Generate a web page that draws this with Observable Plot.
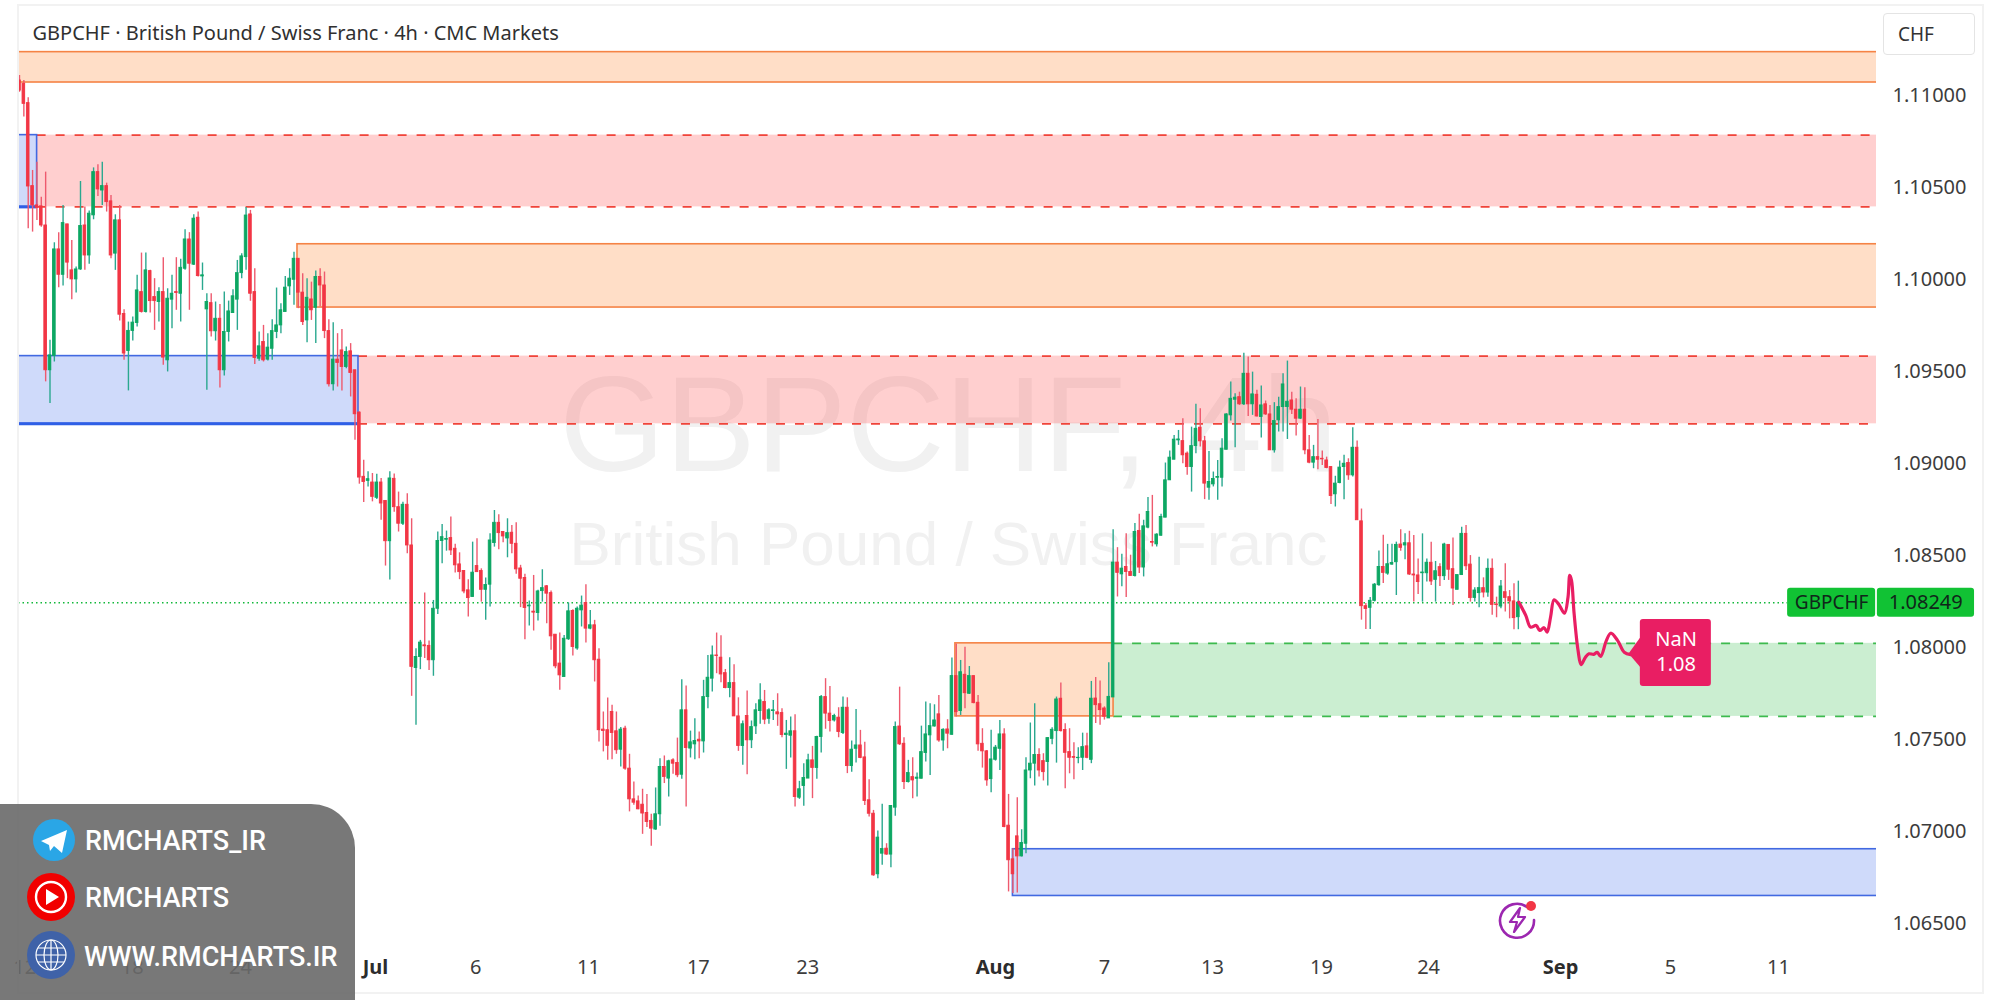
<!DOCTYPE html>
<html><head><meta charset="utf-8">
<script src="https://cdn.jsdelivr.net/npm/d3@7"></script>
<script src="https://cdn.jsdelivr.net/npm/@observablehq/plot@0.6"></script>
<style>
html,body{margin:0;background:#fff;width:2000px;height:1000px;overflow:hidden}
#wrap{position:relative;width:2000px;height:1000px}
#border{position:absolute;left:17px;top:4px;width:1963px;height:986px;border:2px solid #f2f2f2;pointer-events:none}
#chf{position:absolute;left:1883px;top:13px;width:90px;height:40px;border:1px solid #e4e4e4;border-radius:4px;background:#fff;font:19px "Noto Sans";color:#333;line-height:40px;text-indent:14px}
#panel{position:absolute;left:0;top:804px;width:355px;height:196px;background:rgba(105,105,105,.9);border-top-right-radius:44px;color:#fff;font:500 27px Roboto}
#panel div{position:absolute;left:85px;white-space:nowrap}
#panel svg{position:absolute;left:0;top:0}
#bolt{position:absolute;left:1492px;top:895px}
</style></head><body><div id="wrap"><div id="chart"></div><div id="border"></div><div id="chf">CHF</div>
<svg id="bolt" width="50" height="46" viewBox="0 0 50 46"><path d="M35 12A17 17 0 1 0 42 25" fill="none" stroke="#9c27b0" stroke-width="2.6" stroke-linecap="round"/><path d="M28 13L18 27H25L22 37L33 22H26Z" fill="none" stroke="#9c27b0" stroke-width="2.2" stroke-linejoin="round"/><circle cx="39" cy="11" r="5" fill="#f23645"/></svg>
<div id="panel">
<svg width="110" height="196"><circle cx="54" cy="36" r="21" fill="#2aa6e6"/><path d="M41 37L67 26L62 49L54 42L50 47L49 41Z" fill="#fff"/>
<circle cx="51" cy="93" r="24" fill="#f10000"/><circle cx="51" cy="93" r="15" fill="none" stroke="#fff" stroke-width="2.4"/><path d="M46 85L59 93L46 101Z" fill="#fff"/>
<circle cx="51" cy="151" r="24" fill="#3f62a8"/><g fill="none" stroke="#fff" stroke-width="1.2"><circle cx="51" cy="151" r="15"/><ellipse cx="51" cy="151" rx="7" ry="15"/><path d="M36 151H66M38 144H64M38 158H64M51 136V166"/></g></svg>
<div style="top:21px">RMCHARTS_IR</div><div style="top:78px">RMCHARTS</div><div style="top:137px;left:84px">WWW.RMCHARTS.IR</div></div></div>
<script>
// Prices in 1/100000 CHF. Each row: open, close, high, low
const juneBars=[[111087,111032,111114,111023],[111069,110960,111087,110888],[110964,110511,110993,110281],[110513,110408,110598,110263],[110408,110395,110643,110326],[110403,110299,110453,110290],[110299,109512,110589,109449],[109512,109593,109675,109331],[109590,110169,110205,109557],[110169,110031,110260,109961],[110031,110312,110408,109970],[110305,110097,110305,110010],[110055,110006,110218,109896],[110006,110060,110073,109932],[110060,110296,110538,110055],[110299,110136,110399,110055],[110136,110363,110377,110088],[110354,110589,110612,110330],[110589,110495,110629,110457],[110489,110513,110643,110408],[110513,110426,110529,110372],[110430,110136,110462,110118],[110146,110327,110357,110055],[110327,109814,110408,109780],[109818,109603,109841,109566],[109617,109726,109774,109400],[109726,109771,109802,109671],[109769,109946,110028,109747],[109937,109829,110149,109823],[109829,110055,110149,109823],[110051,109888,110055,109823],[109910,109888,110010,109729],[109883,109937,109961,109774],[109937,109581,110124,109539],[109566,109901,109955,109503],[109896,109928,110028,109738],[109937,109932,110124,109838],[109928,110069,110115,109774],[110064,110223,110276,110055],[110223,110091,110260,109838],[110086,110336,110357,110082],[110341,110024,110372,110019],[110022,110028,110095,109946],[109843,109883,109928,109403],[109877,109724,109928,109693],[109724,109792,109883,109671],[109792,109512,109870,109416],[109512,109720,109937,109481],[109720,109832,109888,109666],[109823,109914,109950,109820],[109896,110040,110109,109729],[110040,110131,110145,110010],[110127,110353,110397,110055],[110359,109928,110381,109887],[109937,109579,110064,109544],[109575,109642,109720,109561],[109666,109566,109756,109557],[109570,109635,109711,109562],[109629,109725,109787,109566],[109720,109756,109959,109684],[109756,109838,109874,109711],[109829,109961,110022,109829],[109968,110010,110064,109919],[110004,110118,110154,109865],[110118,109934,110118,109847],[109934,109774,110037,109756],[109783,109906,110010,109662],[109897,109838,109991,109783],[109852,110019,110051,109657],[110019,109973,110064,109856],[109973,109725,110046,109684],[109725,109436,109787,109421],[109436,109570,109771,109400],[109570,109552,109711,109421],[109620,109530,109734,109400],[109530,109611,109639,109521],[109615,109497,109657,109367],[109512,109273,109512,109132],[109282,108929,109286,108893],[108933,108905,109023,108793],[108911,108920,108960,108878]];
const julyBars=[[108902,108824,108951,108797],[108819,108902,108947,108810],[108902,108788,108924,108697],[108802,108583,108802,108448],[108583,108924,108960,108372],[108922,108768,108949,108741],[108768,108678,108850,108633],[108678,108781,108795,108669],[108781,108560,108841,108515],[108560,107900,108705,107740],[107894,107954,107999,107583],[107954,108032,108044,107885],[108017,108012,108301,107945],[108014,107936,108041,107881],[107936,108216,108261,107849],[108216,108584,108633,108185],[108584,108605,108674,108461],[108591,108595,108638,108529],[108600,108533,108714,108506],[108542,108452,108566,108410],[108457,108415,108520,108374],[108421,108310,108421,108298],[108316,108274,108374,108171],[108280,108412,108578,108280],[108448,108415,108596,108415],[108421,108319,108433,108252],[108319,108345,108383,108153],[108347,108587,108624,108225],[108573,108683,108750,108551],[108683,108627,108727,108537],[108633,108609,108636,108575],[108598,108627,108705,108493],[108629,108569,108669,108515],[108569,108430,108683,108403],[108435,108379,108452,108222],[108383,108220,108403,108048],[108229,108233,108258,108122],[108200,108195,108397,108095],[108193,108310,108316,108149],[108312,108328,108428,108252],[108338,108298,108343,108135],[108301,108066,108312,107990],[108075,107903,108075,107890],[107918,107854,108084,107773],[107845,108053,108071,107845],[108050,108202,108247,108044],[108204,108008,108211,107959],[108000,108216,108225,107990],[108207,108233,108285,108117],[108247,108108,108347,108030],[108108,108126,108207,108102],[108126,107936,108153,107818],[107939,107556,107999,107492],[107559,107552,107655,107438],[107556,107471,107731,107393],[107655,107541,107691,107396],[107550,107447,107655,107425],[107450,107559,107570,107356],[107564,107347,107577,107338],[107347,107180,107425,107112],[107180,107162,107275,107148],[107169,107126,107199,107124],[107151,107103,107235,106990],[107106,107057,107206,107027],[107063,107021,107099,106925],[107016,107099,107242,107012],[107099,107356,107401,107034],[107356,107302,107416,107266],[107293,107387,107392,107193],[107392,107374,107401,107316],[107378,107311,107513,107298],[107314,107664,107830,107289],[107664,107459,107796,107139],[107456,107490,107551,107405],[107479,107497,107618,107396],[107504,107495,107546,107401],[107495,107736,107827,107432],[107736,107841,107962,107673],[107836,107962,108013,107763],[107962,107959,108084,107863],[107950,107859,108069,107814],[107866,107785,107886,107781],[107785,107812,107950,107732],[107812,107631,107912,107631],[107631,107470,107732,107441],[107470,107588,107606,107365],[107633,107501,107769,107314],[107501,107573,107606,107456],[107577,107664,107700,107532],[107660,107718,107809,107588],[107709,107613,107772,107586],[107618,107664,107673,107588],[107660,107664,107718,107609],[107653,107642,107754,107577],[107649,107530,107673,107515],[107530,107537,107609,107343],[107526,107550,107628,107405],[107550,107193,107640,107139],[107189,107235,107278,107180],[107253,107296,107374,107142],[107293,107392,107425,107293],[107392,107351,107468,107184],[107351,107519,107523,107289],[107519,107736,107745,107432],[107736,107646,107836,107561],[107646,107606,107794,107546],[107609,107633,107642,107600],[107624,107546,107678,107515],[107541,107678,107736,107532],[107678,107361,107732,107320],[107361,107450,107497,107328],[107455,107473,107669,107377],[107473,107405,107555,107401],[107408,107171,107490,107147],[107175,107102,107287,107084],[107102,106767,107120,106762],[106773,106972,107008,106749],[106885,106910,107153,106822],[106912,106880,106939,106876],[106880,107144,107147,106809],[107135,107573,107600,107088],[107576,107479,107790,107473],[107482,107274,107515,107233],[107274,107323,107392,107269],[107301,107283,107406,107184],[107292,107298,107323,107193],[107292,107437,107578,107292],[107432,107533,107709,107383],[107528,107578,107700,107310],[107576,107609,107694,107573],[107642,107500,107745,107491],[107500,107558,107564,107441],[107560,107537,107613,107455],[107531,107850,107949,107528],[107850,107654,108025,107627],[107660,107871,107935,107636],[107857,107757,108007,107672],[107754,107850,107902,107750],[107850,107703,107850,107700],[107705,107479,107745,107442],[107482,107441,107564,107350],[107441,107283,107446,107251],[107290,107397,107555,107216]];
const augustBars=[[107395,107461,107473,107388],[107455,107533,107609,107337],[107533,107030,107564,107026],[107037,106849,107207,106677],[106854,106773,106912,106668],[106979,106870,107189,106671],[106870,106943,107015,106867],[106939,107337,107406,106885],[107337,107374,107595,107292],[107374,107421,107700,107252],[107421,107337,107455,107301],[107388,107328,107428,107280],[107383,107513,107515,107252],[107509,107558,107569,107477],[107551,107723,107736,107377],[107727,107551,107812,107546],[107557,107433,107591,107238],[107437,107406,107564,107319],[107410,107406,107488,107287],[107404,107406,107461,107374],[107406,107464,107540,107337],[107468,107406,107540,107401],[107395,107727,107821,107374],[107728,107692,107842,107593],[107697,107665,107824,107583],[107674,107629,107683,107611],[107620,107737,107922,107620],[107734,108467,108646,107734],[108467,108411,108548,108280],[108403,108434,108512,108335],[108443,108416,108624,108277],[108416,108394,108507,108394],[108394,108633,108679,108389],[108639,108440,108729,108407],[108440,108664,108697,108389],[108657,108742,108820,108651],[108579,108575,108832,108552],[108566,108619,108624,108552],[108613,108715,108729,108610],[108711,108914,109008,108711],[108914,109037,109073,108914],[109026,109135,109158,109026],[109131,109136,109185,109104],[109127,109050,109249,109004],[109059,108986,109068,108941],[108986,109100,109203,108850],[109100,109194,109327,109059],[109200,109126,109303,109095],[109126,108896,109153,108809],[108874,108905,109071,108805],[108892,108921,108959,108878],[108928,108932,109022,108805],[108928,109086,109140,108878],[109080,109272,109276,109080],[109267,109357,109448,109236],[109352,109363,109384,109091],[109366,109327,109393,109321],[109327,109493,109605,109321],[109493,109327,109584,109261],[109327,109381,109502,109267],[109379,109261,109403,109258],[109258,109321,109426,109144],[109327,109272,109345,109267],[109272,109077,109321,109077],[109077,109236,109336,109062],[109240,109312,109366,109176],[109312,109435,109493,109176],[109312,109341,109562,109136],[109348,109298,109393,109272],[109298,109249,109357,109155],[109249,109298,109421,109245],[109298,109077,109417,109053],[109077,109010,109158,109004],[109010,109040,109104,108977],[109040,109026,109245,108972],[109031,109028,109073,108995],[109022,108981,109040,108977],[108986,108829,108986,108783],[108838,108896,108936,108769],[108899,108983,109019,108896],[108986,109004,109050,108809],[109008,108941,109031,108914],[108941,109091,109200,108932],[109091,108697,109127,108697],[108691,108230,108758,108154],[108230,108215,108244,108103],[108221,108259,108277,108103],[108259,108347,108353,108253],[108344,108443,108530,108338],[108443,108411,108615,108353],[108407,108458,108566,108398],[108456,108465,108566,108452],[108469,108563,108578,108288],[108565,108547,108645,108529],[108560,108572,108623,108482],[108572,108402,108637,108397],[108402,108397,108614,108252],[108397,108361,108487,108294],[108409,108413,108623,108252],[108409,108466,108487,108361],[108466,108364,108578,108342],[108373,108420,108473,108252],[108442,108393,108460,108337],[108393,108565,108572,108370],[108563,108428,108563,108370],[108431,108326,108601,108234],[108319,108399,108399,108319],[108399,108623,108659,108397],[108623,108447,108668,108424],[108456,108274,108505,108252],[108275,108315,108330,108252],[108301,108328,108496,108221],[108328,108304,108384,108275],[108304,108433,108487,108279],[108433,108237,108487,108180],[108239,108236,108279,108167],[108228,108337,108370,108216],[108306,108275,108460,108198],[108279,108256,108315,108161],[108256,108165,108352,108102],[108170,108249,108366,108102]];

// Pink projected path after the last bar: bar number, price
const forecastBars=[344.1,345.7,346.8,348.1,348.9,349.9,350.6,351.4,352.2,353.3,354.6,355.4,355.8,356.2,356.8,357.7,358.4,359.4,360.2,361.3,362.1,362.9,364.2,365.2,366.8,368.3,369.8];
const forecastPrices=[1.08252,1.08180,1.08116,1.08125,1.08098,1.08113,1.08089,1.08171,1.08265,1.08239,1.08192,1.08279,1.08397,1.08370,1.08189,1.07990,1.07912,1.07953,1.07971,1.07968,1.07979,1.07957,1.08043,1.08083,1.08043,1.07980,1.07967];

// Supply/demand zones: start bar, top price, bottom price
const orangeZones=[[-0.23,1.11241,1.11076,432],[63.8,1.10197,1.09853,432],[214.8,1.08028,1.07631,251.1]];
const blueZones=[[-0.23,1.10790,1.10400,4.04],[-0.23,1.09589,1.09221,77.8],[228,1.06909,1.06655,432]];
const redZones=[[4.04,1.10790,1.10400],[77.8,1.09589,1.09221]];
const greenZones=[[251.1,1.08028,1.07631]];

const priceTicks=[1.065,1.07,1.075,1.08,1.085,1.09,1.095,1.10,1.105,1.11];
const dayTickBars=[1.2,25.9,50.7,104.7,130.6,155.8,180.9,249,273.8,298.8,323.4,378.9,403.7];
const dayTickLabels=["12","18","24","6","11","17","23","7","13","19","24","5","11"];
const monthTickBars=[81.7,224,353.7];
const monthTickLabels=["Jul","Aug","Sep"];
const lastPrice=1.08249;
const titleText="GBPCHF · British Pound / Swiss Franc · 4h · CMC Markets";

const rows=[...juneBars,...julyBars,...augustBars];
const candles=rows.map((r,i)=>({i,open:r[0]/1e5,close:r[1]/1e5,high:r[2]/1e5,low:r[3]/1e5}));
const ups=candles.filter(d=>d.close>=d.open), downs=candles.filter(d=>d.close<d.open);
const forecast=forecastBars.map((b,i)=>({b,p:forecastPrices[i]}));
const zone=r=>({s:r[0],t:r[1],b:r[2],e:r[3]===undefined?432:r[3]});
const GREEN="#0da763",RED="#f23645",GW="#2aa88f",RW="#ee5a6e";
const font="'Noto Sans'";
const bodyHW=.3;
const solid=(list,fill,stroke)=>Plot.rect(list.map(zone),{x1:"s",x2:"e",y1:"t",y2:"b",fill,fillOpacity:.25,stroke,strokeWidth:1.6,clip:true});
const dashed=(list,fill,stroke)=>[
  Plot.rect(list.map(zone),{x1:"s",x2:"e",y1:"t",y2:"b",fill,fillOpacity:.28,clip:true}),
  Plot.ruleY(list.map(zone),{y:"t",x1:"s",x2:"e",stroke,strokeWidth:1.6,strokeDasharray:"9 10",clip:true}),
  Plot.ruleY(list.map(zone),{y:"b",x1:"s",x2:"e",stroke,strokeWidth:1.6,strokeDasharray:"9 10",clip:true})];
const wicks=(d,c)=>Plot.ruleX(d,{x:"i",y1:"low",y2:"high",stroke:c,strokeWidth:1.4});
const bodies=(d,c)=>Plot.rect(d,{x1:x=>x.i-bodyHW,x2:x=>x.i+bodyHW,y1:"open",y2:"close",fill:c,stroke:c,strokeWidth:.9});
const chart=Plot.plot({
  width:2000,height:1000,marginLeft:0,marginRight:124,marginTop:0,marginBottom:40,
  style:{background:"transparent",fontFamily:font,overflow:"visible"},
  x:{type:"linear",domain:[-4.361,426.2],range:[0,1876],axis:null},
  y:{type:"linear",domain:[1.063043,1.115217],range:[960,0],axis:null},
  marks:[
    Plot.text(["GBPCHF, 4h"],{x:[213.2],y:[1.09201],fontSize:136,fontFamily:"Liberation Sans",fill:"#f1f1f1",textAnchor:"middle",lineAnchor:"middle"}),
    Plot.text(["British Pound / Swiss Franc"],{x:[213.2],y:[1.0856],fontSize:62,fontFamily:"Liberation Sans",fill:"#f1f1f1",textAnchor:"middle",lineAnchor:"middle"}),
    ...dashed(redZones,"#ff5252","#f0443a"),
    ...dashed(greenZones,"#46c35a","#3dba4e"),
    solid(orangeZones,"#ff7a1f","#f58345"),
    solid(blueZones,"#406cec","#4169e1"),
    Plot.ruleY([{y:1.1040,e:4.04},{y:1.09221,e:77.8}],{y:"y",x1:-0.23,x2:"e",stroke:"#2f5fe6",strokeWidth:3}),
    Plot.ruleY([lastPrice],{x1:-0.23,x2:405.8,stroke:"#12b83a",strokeWidth:1.4,strokeDasharray:"1.5 3"}),
    wicks(ups,GW),wicks(downs,RW),bodies(ups,GREEN),bodies(downs,RED),
    Plot.line(forecast,{x:"b",y:"p",stroke:"#e91e63",strokeWidth:3.2,curve:"catmull-rom"}),
    Plot.line([{x:372,y:1.08061},{x:369.3,y:1.07973},{x:372,y:1.07898}],{x:"x",y:"y",fill:"#e91e63",stroke:"none"}),
    Plot.rect([0],{x1:[372],x2:[388.3],y1:[1.08158],y2:[1.07793],fill:"#e91e63",rx:3}),
    Plot.text(["NaN"],{x:[380.2],y:[1.08049],fill:"#fff",fontSize:20,textAnchor:"middle"}),
    Plot.text(["1.08"],{x:[380.2],y:[1.07913],fill:"#fff",fontSize:20,textAnchor:"middle"}),
    Plot.rect([0],{x1:[405.8],x2:[426],y1:[lastPrice+.00079],y2:[lastPrice-.00079],fill:"#11c234",rx:3}),
    Plot.rect([0],{x1:[426.4],x2:[448.7],y1:[lastPrice+.00079],y2:[lastPrice-.00079],fill:"#11c234",rx:3}),
    Plot.text(["GBPCHF"],{x:[415.9],y:[lastPrice],fill:"#10261a",fontSize:19,textAnchor:"middle"}),
    Plot.text([d3.format(".5f")(lastPrice)],{x:[437.5],y:[lastPrice],fill:"#10261a",fontSize:20,textAnchor:"middle"}),
    Plot.axisY(priceTicks,{anchor:"right",tickSize:0,tickPadding:16,dy:-1,tickFormat:d3.format(".5f"),label:null,fontSize:20,fill:"#3c3c3c"}),
    Plot.axisX(dayTickBars,{anchor:"bottom",tickSize:0,tickPadding:-1,tickFormat:d=>dayTickLabels[dayTickBars.indexOf(d)],label:null,fontSize:20,fill:"#3c3c3c"}),
    Plot.axisX(monthTickBars,{anchor:"bottom",tickSize:0,tickPadding:-1,tickFormat:d=>monthTickLabels[monthTickBars.indexOf(d)],label:null,fontSize:20,fontWeight:"bold",fill:"#2c2c2c"}),
    Plot.text([titleText],{frameAnchor:"top-left",dx:32,dy:25,fontSize:20,fill:"#303030",lineAnchor:"top"})
  ]
});
document.getElementById("chart").appendChild(chart);
</script></body></html>
